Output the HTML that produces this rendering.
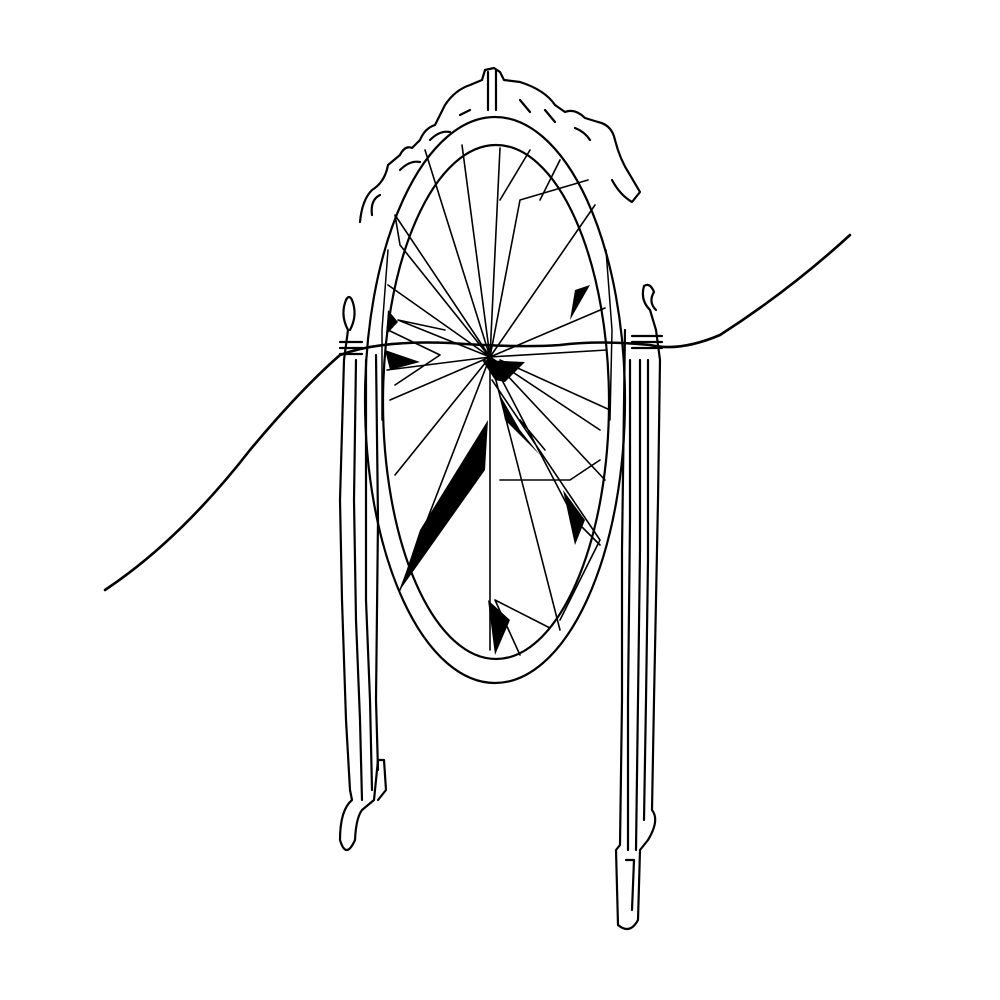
<!DOCTYPE html>
<html><head><meta charset="utf-8"><style>
html,body{margin:0;padding:0;background:#fff;}
svg{display:block}
</style></head><body>
<svg width="1000" height="1000" viewBox="0 0 1000 1000" fill="none" stroke="#000" stroke-width="2.2" stroke-linecap="round" stroke-linejoin="round">
<g>
<path d="M346 300 Q340 315 348 330 L344 360 L340 500 L342 600 L346 720 L350 790 L352 800 Q340 810 340 840 Q346 860 355 840 Q356 818 362 810 L374 800 L378 760 L384 760 L386 790 L378 800"/>
<path d="M352 300 Q358 315 350 330"/><path d="M346 300 Q349 294 352 300"/>
<path d="M356 360 L354 500 L356 620 L360 720 L362 800"/>
<path d="M366 360 L366 600 L370 700 L372 790"/>
<path d="M376 355 L378 520 L376 700 L378 770"/>
<path d="M340 342 L362 342 M340 348 L362 348 M340 354 L362 354"/>
</g>
<g>
<path d="M644 286 Q640 300 650 310 L656 330 L660 360 L658 500 L656 600 L654 700 L652 810 Q660 820 648 840 L640 850 L638 920 Q630 935 618 925 L616 850 L620 845 L622 700 L622 550 L625 330"/>
<path d="M644 286 Q650 282 654 292 Q648 302 656 310"/>
<path d="M630 360 L630 520 L628 700 L628 850"/>
<path d="M640 360 L640 550 L638 700 L636 850"/>
<path d="M648 360 L648 560 L646 700 L644 820"/>
<path d="M632 336 L662 336 M632 342 L662 342 M632 348 L662 348"/>
<path d="M626 860 L634 860 L632 910"/>
</g>
<g>
<ellipse cx="495" cy="400" rx="130" ry="283"/>
<ellipse cx="496" cy="402" rx="113" ry="257"/>
<path d="M382 420 L382 330 L388 250 M610 420 L612 330 L606 250" stroke-width="1.5"/>
</g>
<g>
<path d="M360 222 Q362 200 372 190 Q385 182 388 165 L400 155 Q405 145 412 148 L420 140 Q425 128 435 125 L445 105 Q455 90 470 85 L482 80 L485 70 L494 68 L500 72 L504 80 L520 82 Q545 90 555 105 L565 112 Q575 108 585 118 L598 122 Q612 125 615 140 Q620 160 630 175 L640 192 L632 202 Q620 195 612 180"/>
<path d="M372 215 Q370 200 380 195"/>
<path d="M400 170 Q410 160 420 162 M430 140 Q440 130 450 132 M460 115 L470 110 M520 100 L530 112 M545 110 L555 122 M575 128 Q585 132 590 140"/>
<path d="M488 72 L488 110 M496 70 L496 110"/>
</g>
<g stroke-width="1.6">
<path d="M490 357 L425 150 M490 357 L462 145 M490 357 L500 148 M490 357 L595 205 M490 357 L520 200 L588 180 M490 357 L388 285 M490 357 L395 215 L400 245 L488 355 M490 357 L387 370 M490 357 L390 400 M490 357 L395 475 M490 357 L400 590 M490 357 L490 650 M490 357 L560 630 M490 357 L575 520 L600 545 M490 357 L605 480 M490 357 L600 430 M490 357 L607 350 M490 357 L605 308 M490 357 L398 320 L445 330 M500 360 L610 410 M530 150 L500 200 M560 160 L540 200 M492 380 L600 540 L560 620 M495 600 L550 628 M495 600 L520 655 M500 480 L570 480 L600 460 M388 330 L440 355 L395 385 M520 420 L545 450"/>
</g>
<g fill="#000" stroke="none">
<polygon points="482,360 525,362 505,382 495,380"/>
<polygon points="385,350 420,362 390,370"/>
<polygon points="388,310 398,322 386,335"/>
<polygon points="488,420 420,530 400,590 485,470"/>
<polygon points="575,290 590,285 570,320"/>
<polygon points="500,395 520,430 540,455 505,420"/>
<polygon points="488,600 510,620 495,655"/>
<polygon points="563,490 585,520 575,545"/>
</g>
<path d="M105 590 Q180 540 250 450 Q300 390 340 355 Q380 340 450 343 Q520 348 560 345 Q600 340 650 345 Q680 352 720 335 Q790 290 850 235" stroke-width="2.6"/>
</svg>
</body></html>
